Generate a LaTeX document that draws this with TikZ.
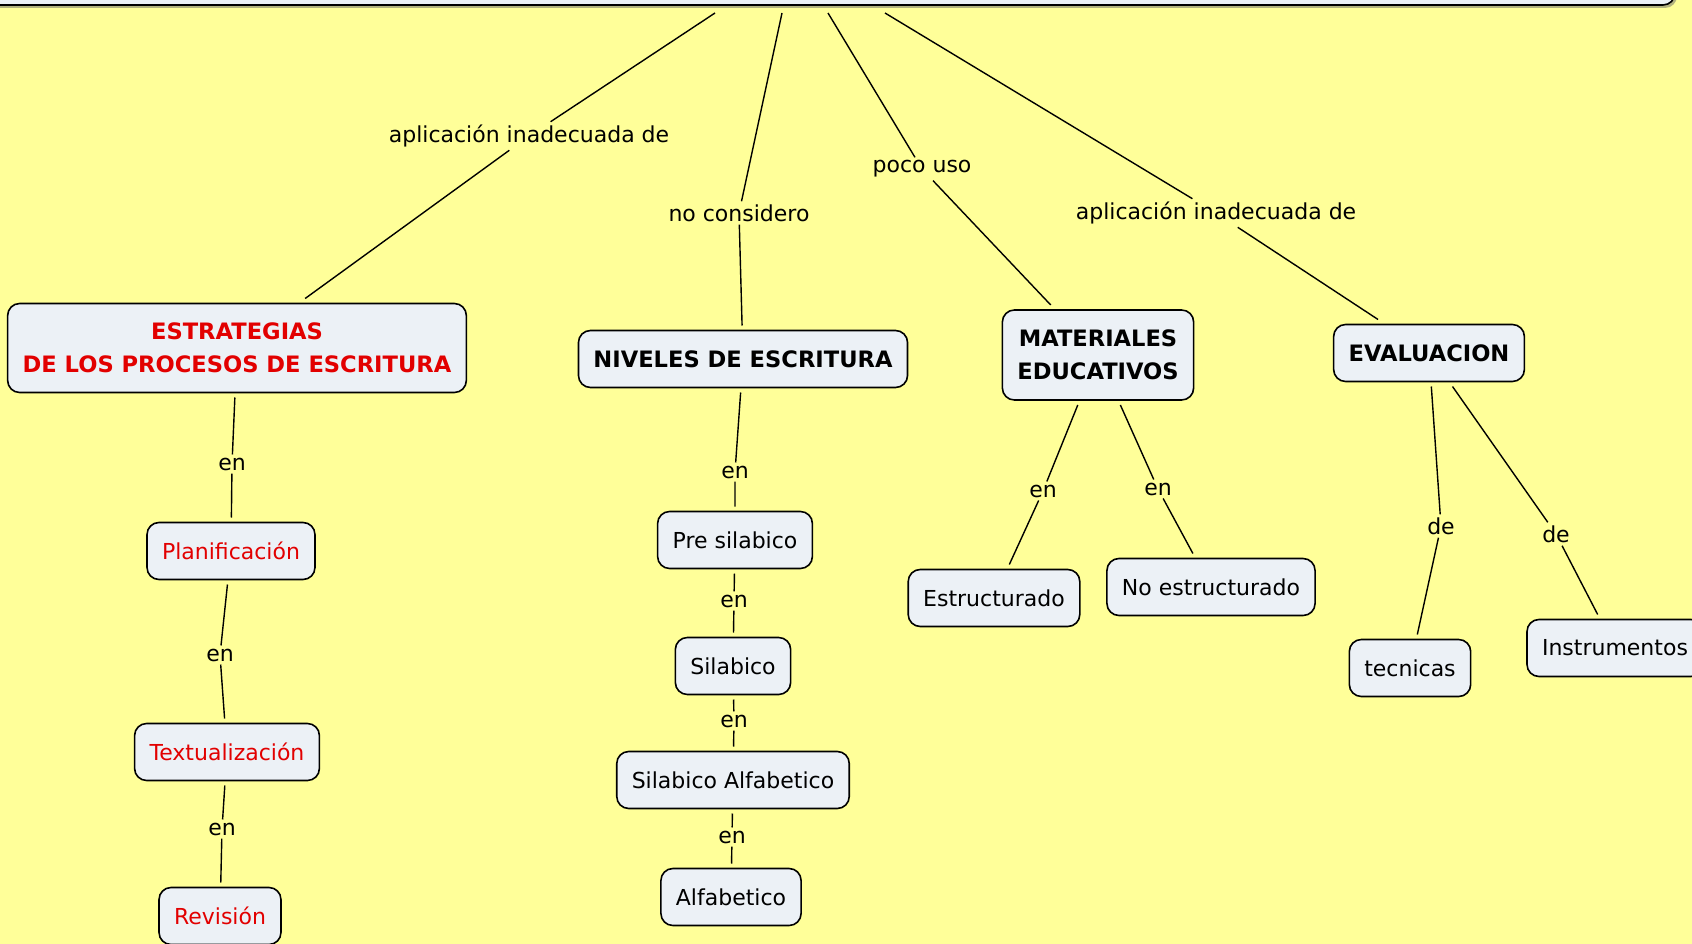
\documentclass[tikz,border=0pt]{standalone}
\usepackage{fontspec}
\setmainfont{DejaVu Sans}
\usetikzlibrary{shadows}
\definecolor{fondo}{RGB}{255,255,153}
\definecolor{caja}{RGB}{236,241,246}
\definecolor{rojo}{RGB}{226,0,0}
\begin{document}
\begin{tikzpicture}[x=1pt,y=-1pt,
    concepto/.style={draw=black,line width=1.6pt,fill=caja,rounded corners=12pt,
      inner xsep=15pt,minimum height=57pt,outer sep=5pt,align=center,
      font=\fontsize{22}{32}\selectfont},
    titulo/.style={concepto,font=\fontsize{22.6}{32.5}\selectfont\bfseries},
    enlace/.style={inner sep=3pt,font=\fontsize{22}{26}\selectfont}]
      \useasboundingbox (0,0) rectangle (1692,944);
      \clip (0,0) rectangle (1692,944);
      \fill[fondo] (0,0) rectangle (1692,944);
      % mapa principal (cortado arriba)
      \node[concepto,outer sep=0pt,minimum width=1690pt,minimum height=130pt,
        drop shadow={shadow xshift=2pt,shadow yshift=-3pt,fill=black!60}] (mapa) at (830,-60) {};
      \coordinate (m1) at (715,13);
      \coordinate (m2) at (782,13);
      \coordinate (m3) at (828,13);
      \coordinate (m4) at (885,13);
      % conceptos
      \node[titulo,text=rojo,minimum height=89pt] (estrategias) at (237,348) {ESTRATEGIAS\\DE LOS PROCESOS DE ESCRITURA};
      \node[titulo] (niveles) at (743,359) {NIVELES DE ESCRITURA};
      \node[titulo,minimum height=90pt] (materiales) at (1098,355) {MATERIALES\\EDUCATIVOS};
      \node[titulo] (evaluacion) at (1429,353) {EVALUACION};
      \node[concepto,text=rojo] (planificacion) at (231,551) {Planificación};
      \node[concepto,text=rojo] (textualizacion) at (227,752) {Textualización};
      \node[concepto,text=rojo] (revision) at (220,916) {Revisión};
      \node[concepto] (presilabico) at (735,540) {Pre silabico};
      \node[concepto] (silabico) at (733,666) {Silabico};
      \node[concepto] (silabicoalf) at (733,780) {Silabico Alfabetico};
      \node[concepto] (alfabetico) at (731,897) {Alfabetico};
      \node[concepto] (estructurado) at (994,598) {Estructurado};
      \node[concepto] (noestructurado) at (1211,587) {No estructurado};
      \node[concepto] (tecnicas) at (1410,668) {tecnicas};
      \node[concepto,anchor=west] (instrumentos) at (1522,648) {Instrumentos};
      % frases de enlace
      \node[enlace] (apl1) at (529,136) {aplicación inadecuada de};
      \node[enlace] (nocons) at (739,213) {no considero};
      \node[enlace] (poco) at (922,169) {poco uso};
      \node[enlace] (apl2) at (1216,213) {aplicación inadecuada de};
      \node[enlace] (en1) at (232,464) {en};
      \node[enlace] (en2) at (220,655) {en};
      \node[enlace] (en3) at (222,829) {en};
      \node[enlace] (en4) at (735,472) {en};
      \node[enlace] (en5) at (734,601) {en};
      \node[enlace] (en6) at (734,721) {en};
      \node[enlace] (en7) at (732,837) {en};
      \node[enlace] (en8) at (1043,491) {en};
      \node[enlace] (en9) at (1158,489) {en};
      \node[enlace] (de1) at (1441,526) {de};
      \node[enlace] (de2) at (1556,534) {de};
      \begin{scope}[-,line width=1.4pt]
        \draw (m1) -- (apl1) -- (estrategias);
        \draw (m2) -- (nocons) -- (niveles);
        \draw (m3) -- (poco) -- (materiales);
        \draw (m4) -- (apl2) -- (evaluacion);
        \draw (estrategias) -- (en1) -- (planificacion);
        \draw (planificacion) -- (en2) -- (textualizacion);
        \draw (textualizacion) -- (en3) -- (revision);
        \draw (niveles) -- (en4) -- (presilabico);
        \draw (presilabico) -- (en5) -- (silabico);
        \draw (silabico) -- (en6) -- (silabicoalf);
        \draw (silabicoalf) -- (en7) -- (alfabetico);
        \draw (materiales) -- (en8) -- (estructurado);
        \draw (materiales) -- (en9) -- (noestructurado);
        \draw (evaluacion) -- (de1) -- (tecnicas);
        \draw (evaluacion) -- (de2) -- (instrumentos);
      \end{scope}
    \end{tikzpicture}
\end{document}
